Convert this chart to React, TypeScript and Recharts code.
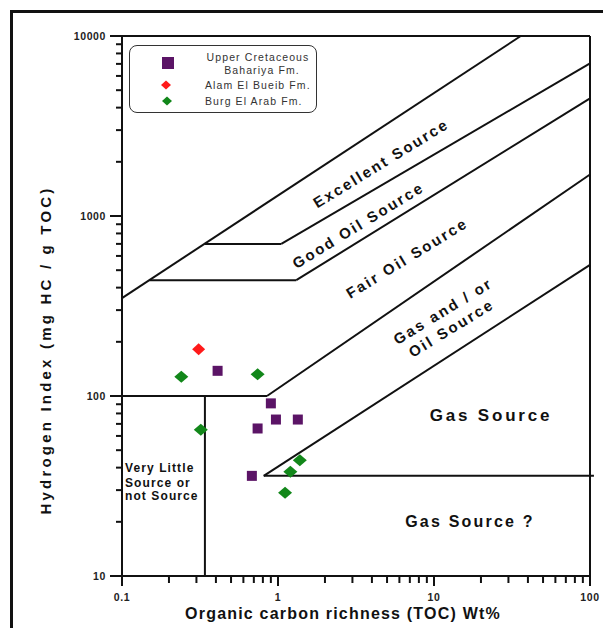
import React from "react";
import { ReferenceDot, ReferenceLine, Scatter, ScatterChart, XAxis, YAxis } from "recharts";

// axis ticks
const xMajor = [0.1, 1, 10, 100];
const xMajorLabels = ["0.1", "1", "10", "100"];
const yMajor = [10, 100, 1000, 10000];
const yMajorLabels = ["10", "100", "1000", "10000"];
const minorSteps = [2, 3, 4, 5, 6, 7, 8, 9];

// samples (TOC wt%, HI mg HC/g TOC)
const bahariyaToc = [0.41, 0.9, 0.97, 1.34, 0.74, 0.68];
const bahariyaHi = [138, 91, 74, 74, 66, 36];
const alamToc = [0.31];
const alamHi = [182];
const burgToc = [0.24, 0.74, 0.32, 1.38, 1.2, 1.11];
const burgHi = [128, 132, 65, 44, 38, 29];

// classification boundaries, [TOC, HI] vertices
const lineExcellent = [[0.1, 350], [36, 10000]];
const lineGood = [[0.34, 700], [1.05, 700], [100, 7050]];
const lineFair = [[0.15, 440], [1.31, 440], [100, 4500]];
const lineGasOil = [[0.1, 100], [0.85, 100], [100, 1700]];
const lineGas = [[0.81, 36], [100, 535]];
const lineGasFloor = [[0.81, 36], [106, 36]];
const lineVeryLittle = [[0.34, 100], [0.34, 10]];
const boundaries = [lineExcellent, lineGood, lineFair, lineGasOil, lineGas, lineGasFloor, lineVeryLittle];

// zone names and where they sit
const zoneNames = ["Excellent Source", "Good Oil Source", "Fair Oil Source", "Gas and / or", "Oil Source"];
const zoneToc = [4.57, 3.26, 6.7, 11.4, 12.9];
const zoneHi = [1968, 891, 585, 297, 239];

const FONT = "'Liberation Sans', Arial, Helvetica, sans-serif";
const INK = "#111";

// full-page figure: no body margin, no scrollbars
if (typeof document !== "undefined") {
  document.documentElement.style.overflow = "hidden";
  document.body.style.margin = "0";
  document.body.style.overflow = "hidden";
}

const toPoints = (toc: number[], hi: number[]) => toc.map((t, i) => ({ toc: t, hi: hi[i] }));
const bahariya = toPoints(bahariyaToc, bahariyaHi);
const alam = toPoints(alamToc, alamHi);
const burg = toPoints(burgToc, burgHi);

const withMinor = (majors: number[]) =>
  majors.flatMap((m, i) => (i < majors.length - 1 ? [m, ...minorSteps.map((s) => m * s)] : [m]));
const xTicks = withMinor(xMajor);
const yTicks = withMinor(yMajor);

const majorIndex = (majors: number[], v: number) =>
  majors.findIndex((m) => Math.abs(Math.log10(m) - Math.log10(v)) < 1e-6);

function XTick({ x, y, payload }: any) {
  const idx = majorIndex(xMajor, payload.value);
  const major = idx >= 0;
  return (
    <g>
      <line x1={x} x2={x} y1={y} y2={y + (major ? 10 : 7)} stroke={INK} strokeWidth={2} />
      {major && (
        <text x={x} y={y + 21} textAnchor="middle" dominantBaseline="central" fontSize={10.5} fontWeight="bold" letterSpacing={0.6} fill="#222" fontFamily={FONT}>
          {xMajorLabels[idx]}
        </text>
      )}
    </g>
  );
}

function YTick({ x, y, payload }: any) {
  const idx = majorIndex(yMajor, payload.value);
  const major = idx >= 0;
  return (
    <g>
      <line x1={x - (major ? 12 : 6)} x2={x} y1={y} y2={y} stroke={INK} strokeWidth={2} />
      {major && (
        <text x={x - 16} y={y} textAnchor="end" dominantBaseline="central" fontSize={10.5} fontWeight="bold" letterSpacing={0.6} fill="#222" fontFamily={FONT}>
          {yMajorLabels[idx]}
        </text>
      )}
    </g>
  );
}

const square = (color: string, size: number) => (p: any) =>
  <rect x={p.cx - size / 2} y={p.cy - size / 2} width={size} height={size} fill={color} />;

const diamond = (color: string, w: number, h: number) => (p: any) =>
  <polygon points={`${p.cx - w},${p.cy} ${p.cx},${p.cy - h} ${p.cx + w},${p.cy} ${p.cx},${p.cy + h}`} fill={color} />;

const PURPLE = "#5B1466";
const RED = "#FF1A1A";
const GREEN = "#12871A";

function Legend() {
  return (
    <div style={{ position: "absolute", left: 129, top: 45, width: 188, height: 68, border: "1.5px solid #333", borderRadius: 8, boxSizing: "border-box", background: "#fff" }}>
      <svg width={188} height={68} style={{ position: "absolute", left: -1.5, top: -1.5 }}>
        <rect x={33} y={12} width={12} height={12} fill={PURPLE} />
        <polygon points="32,40 37,35.5 42,40 37,44.5" fill={RED} />
        <polygon points="33,56 38,51.5 43,56 38,60.5" fill={GREEN} />
        <g fontFamily={FONT} fontSize={10.5} fill="#333" letterSpacing={1.1}>
          <text x={129} y={12} textAnchor="middle" dominantBaseline="central">Upper Cretaceous</text>
          <text x={133} y={25} textAnchor="middle" dominantBaseline="central">Bahariya Fm.</text>
          <text x={76} y={40} dominantBaseline="central">Alam El Bueib Fm.</text>
          <text x={76} y={56} dominantBaseline="central">Burg El Arab Fm.</text>
        </g>
      </svg>
    </div>
  );
}

export default function App() {
  return (
    <div style={{ position: "relative", width: 603, height: 628, overflow: "hidden", fontFamily: FONT, background: "#fff" }}>
      <div style={{ position: "absolute", left: 9.5, top: 10, width: 600, height: 630, borderLeft: "3px solid #111", borderTop: "3px solid #111" }} />
      <ScatterChart width={603} height={628} margin={{ top: 36, right: 13, bottom: 0, left: 0 }}>
        <XAxis
          dataKey="toc"
          type="number"
          scale="log"
          domain={[0.1, 100]}
          allowDataOverflow
          ticks={xTicks}
          interval={0}
          tickSize={0}
          tickMargin={0}
          tickLine={false}
          tick={(p: any) => <XTick {...p} />}
          axisLine={{ stroke: INK, strokeWidth: 2 }}
          height={52}
          label={() => (
            <text x={343} y={613} textAnchor="middle" dominantBaseline="central" fontSize={16} fontWeight="bold" letterSpacing={1.2} fill="#111" fontFamily={FONT}>
              Organic carbon richness (TOC) Wt%
            </text>
          )}
        />
        <YAxis
          dataKey="hi"
          type="number"
          scale="log"
          domain={[10, 10000]}
          allowDataOverflow
          ticks={yTicks}
          interval={0}
          tickSize={0}
          tickMargin={0}
          tickLine={false}
          tick={(p: any) => <YTick {...p} />}
          axisLine={{ stroke: INK, strokeWidth: 2 }}
          width={122}
          label={() => (
            <text x={45} y={350} transform="rotate(-90, 45, 350)" textAnchor="middle" dominantBaseline="central" fontSize={15} fontWeight="bold" letterSpacing={3.2} fill="#111" fontFamily={FONT}>
              Hydrogen Index (mg HC / g TOC)
            </text>
          )}
        />
        <ReferenceLine y={10000} stroke={INK} strokeWidth={2} />
        <ReferenceLine x={100} stroke={INK} strokeWidth={2} />
        {boundaries.flatMap((line, li) =>
          line.slice(1).map((pt, i) => (
            <ReferenceLine
              key={`b${li}-${i}`}
              segment={[{ x: line[i][0], y: line[i][1] }, { x: pt[0], y: pt[1] }]}
              stroke={INK}
              strokeWidth={2}
              ifOverflow="visible"
            />
          ))
        )}
        {zoneNames.map((name, i) => (
          <ReferenceDot
            key={name}
            x={zoneToc[i]}
            y={zoneHi[i]}
            r={1}
            ifOverflow="visible"
            shape={(p: any) => (
              <text x={p.cx} y={p.cy} transform={`rotate(-31.5, ${p.cx}, ${p.cy})`} textAnchor="middle" dominantBaseline="central" fontSize={15} fontWeight="bold" letterSpacing={2.2} fill="#111" fontFamily={FONT}>
                {name}
              </text>
            )}
          />
        ))}
        <ReferenceDot
          x={23.2}
          y={78}
          r={1}
          shape={(p: any) => (
            <text x={p.cx} y={p.cy} textAnchor="middle" dominantBaseline="central" fontSize={17} fontWeight="bold" letterSpacing={2.8} fill="#111" fontFamily={FONT}>
              Gas Source
            </text>
          )}
        />
        <ReferenceDot
          x={17}
          y={20.2}
          r={1}
          shape={(p: any) => (
            <text x={p.cx} y={p.cy} textAnchor="middle" dominantBaseline="central" fontSize={16} fontWeight="bold" letterSpacing={2.2} fill="#111" fontFamily={FONT}>
              Gas Source ?
            </text>
          )}
        />
        <ReferenceDot
          x={0.1045}
          y={39.8}
          r={1}
          ifOverflow="visible"
          shape={(p: any) => (
            <text x={p.cx} y={p.cy} dominantBaseline="central" fontSize={12} fontWeight="bold" letterSpacing={1.1} fill="#111" fontFamily={FONT}>
              <tspan x={p.cx}>Very Little</tspan>
              <tspan x={p.cx} dy={14.5}>Source or</tspan>
              <tspan x={p.cx} dy={13.5}>not Source</tspan>
            </text>
          )}
        />
        <Scatter name="Upper Cretaceous Bahariya Fm." data={bahariya} shape={square(PURPLE, 10)} isAnimationActive={false} />
        <Scatter name="Alam El Bueib Fm." data={alam} shape={diamond(RED, 6.5, 6)} isAnimationActive={false} />
        <Scatter name="Burg El Arab Fm." data={burg} shape={diamond(GREEN, 7, 6)} isAnimationActive={false} />
      </ScatterChart>
      <Legend />
    </div>
  );
}
